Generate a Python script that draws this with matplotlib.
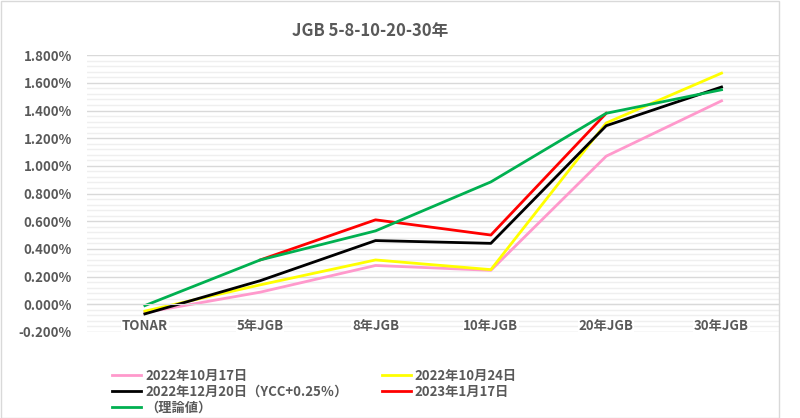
import numpy as np
import matplotlib.pyplot as plt
from matplotlib.ticker import MultipleLocator, FuncFormatter

plt.rcParams['font.family'] = ['Noto Sans CJK JP', 'DejaVu Sans']

categories = ['TONAR', '5年JGB', '8年JGB', '10年JGB', '20年JGB', '30年JGB']
labels = ['2022年10月17日', '2022年10月24日', '2022年12月20日（YCC+0.25％）',
          '2023年1月17日', '（理論値）']
oct17 = [-0.06, 0.087, 0.28, 0.245, 1.07, 1.47]
oct24 = [-0.05, 0.14, 0.32, 0.25, 1.31, 1.67]
dec20 = [-0.07, 0.17, 0.46, 0.44, 1.29, 1.57]
jan17 = [np.nan, 0.32, 0.61, 0.50, 1.38, np.nan]
theory = [-0.01, 0.32, 0.53, 0.884, 1.38, 1.55]
colors = ['#ff99cc', '#ffff00', '#000000', '#ff0000', '#00b050']

txt = '#595959'
fig = plt.figure(figsize=(8, 4.18), dpi=100)
ax = fig.add_axes([0.109, 0.206, 0.865, 0.662])

x = np.arange(len(categories))
series = [oct17, oct24, dec20, jan17, theory]
lines = []
for vals, c, lab in zip(series, colors, labels):
    l, = ax.plot(x, vals, color=c, lw=2, label=lab)
    lines.append(l)

ax.set_xlim(-0.5, 5.5)
ax.set_ylim(-0.2, 1.8)
ax.yaxis.set_major_locator(MultipleLocator(0.2))
ax.yaxis.set_minor_locator(MultipleLocator(0.04))
ax.yaxis.set_major_formatter(FuncFormatter(lambda v, p: '%.3f%%' % v))
ax.grid(which='major', axis='y', color='#d9d9d9', lw=1)
ax.grid(which='minor', axis='y', color='#efefef', lw=1)
ax.set_axisbelow(True)
ax.xaxis.set_zorder(0.7)  # category labels above the y gridlines
for s in ['top', 'right', 'left']:
    ax.spines[s].set_visible(False)
ax.spines['bottom'].set_position(('data', 0))
ax.spines['bottom'].set_color('#d9d9d9')
ax.set_xticks(x)
ax.set_xticklabels(categories)
ax.tick_params(axis='both', which='both', length=0, colors=txt, labelsize=9.5)
ax.tick_params(axis='x', pad=11)
ax.tick_params(axis='y', pad=11)
for t in ax.get_xticklabels() + ax.get_yticklabels():
    t.set_fontweight('bold')
for t in ax.get_xticklabels():
    t.set_bbox(dict(facecolor='white', edgecolor='none', pad=0.5))

fig.text(0.463, 0.925, 'JGB 5-8-10-20-30年', ha='center', va='center',
         fontsize=12, fontweight='bold', color=txt)

# row-major order like the original legend
order = [0, 2, 4, 1, 3]
leg = fig.legend(handles=[lines[i] for i in order], loc='upper left',
                 bbox_to_anchor=(0.14, 0.117),
                 ncol=2, frameon=False, handlelength=2.2,
                 handletextpad=0.3, columnspacing=2.6, labelspacing=0.15,
                 borderaxespad=0, borderpad=0, labelcolor=txt,
                 prop={'weight': 'bold', 'size': 9.5})

fig.patches.append(plt.Rectangle((0.001, 0.001), 0.973, 0.997, fill=False,
                                 edgecolor='#d9d9d9', lw=1,
                                 transform=fig.transFigure))

fig.savefig('out.png', dpi=100)
